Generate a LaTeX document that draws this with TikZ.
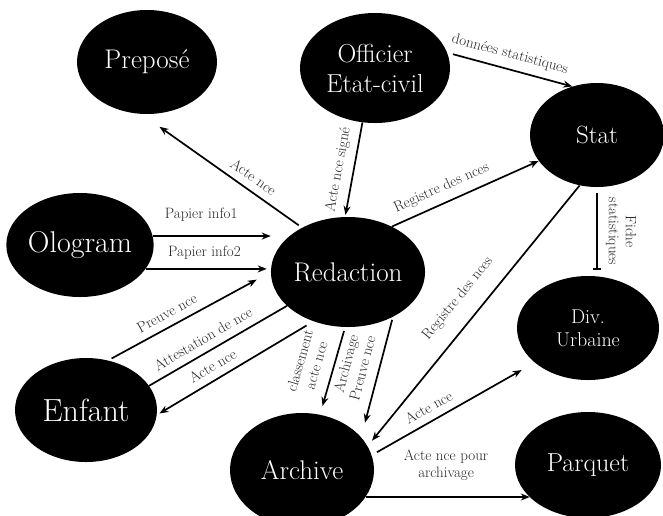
\documentclass[tikz,border=0pt]{standalone}
\usetikzlibrary{shapes.geometric,arrows.meta}

\tikzset{
  bulle/.style={ellipse, fill=black, text=white, inner sep=0pt, align=center},
  lien/.style={line width=1.7pt, -{Stealth[length=9pt,width=7pt]}},
  etiq/.style={text=black!85, font=\fontsize{15}{17}\selectfont, sloped, above=4pt, align=center},
}

\begin{document}
\begin{tikzpicture}[x=1pt,y=-1pt]
        \useasboundingbox (0,0) rectangle (663,515);
        \clip (0,0) rectangle (663,515);
        % les acteurs
        \node[bulle, minimum width=140pt, minimum height=104pt, font=\fontsize{27}{30}\selectfont] (prep) at (147,62) {Preposé};
        \node[bulle, minimum width=150pt, minimum height=110pt, font=\fontsize{26}{30}\selectfont] (offi) at (375,68) {Officier\\Etat-civil};
        \node[bulle, minimum width=134pt, minimum height=104pt, font=\fontsize{25}{30}\selectfont] (stat) at (597,135) {Stat};
        \node[bulle, minimum width=144pt, minimum height=104pt, font=\fontsize{30}{34}\selectfont] (olog) at (80,245) {Ologram};
        \node[bulle, minimum width=146pt, minimum height=110pt, font=\fontsize{27}{30}\selectfont] (redac) at (348,272) {Redaction};
        \node[bulle, minimum width=142pt, minimum height=104pt, font=\fontsize{32}{35}\selectfont] (enf) at (86,410) {Enfant};
        \node[bulle, minimum width=144pt, minimum height=114pt, font=\fontsize{27}{32}\selectfont] (arch) at (302,470) {Archive};
        \node[bulle, minimum width=142pt, minimum height=104pt, font=\fontsize{20}{23}\selectfont] (div) at (588,328) {Div.\\Urbaine};
        \node[bulle, minimum width=146pt, minimum height=106pt, font=\fontsize{26}{30}\selectfont] (parq) at (588,465) {Parquet};

        % les flux
        \draw[lien, shorten <=4pt, shorten >=22pt] (redac.136) -- node[etiq, pos=.35] {Acte nce} (prep.-96);
        \draw[lien, shorten >=2pt] (offi.-103) -- node[etiq, pos=.53] {Acte nce signé} (redac.93);
        \draw[lien, shorten <=6pt] (offi.12) -- node[etiq, pos=.47] {données statistiques} (stat.117);
        \draw[lien] (redac.46) -- node[etiq, pos=.38] {Registre des nces} (stat.-156);
        \draw[lien] (olog.7) -- node[etiq, pos=.41, above=6pt] {Papier info1} (olog.7 -| redac.west);
        \draw[lien, shorten >=4pt] (olog.-20) -- node[etiq, pos=.47, above=1pt] {Papier info2} (olog.-20 -| redac.west);
        \draw[lien, shorten <=4pt, shorten >=16pt] (enf.66) -- node[etiq, pos=.40] {Preuve nce} (redac.180);
        \draw[line width=1.7pt] (enf.21) -- node[etiq, pos=.44] {Attestation de nce} (redac.-151);
        \draw[lien, shorten <=8pt, shorten >=3pt] (redac.-125) -- node[etiq, pos=.6] {Acte nce} (enf.-4);
        \draw[lien, shorten <=4pt, shorten >=9pt] (redac.-93) -- node[etiq, pos=.49, above=4pt] {classement\\acte nce} (arch.72);
        \draw[lien, shorten <=3pt, shorten >=15pt] (redac.-45) -- node[etiq, pos=.46, above=3pt] {Archivage\\Preuve nce} (arch.29);
        \draw[lien, shorten >=7pt] (stat.-109) -- node[etiq, pos=.49, above=8pt] {Registre des nces} (arch.20);
        \draw[lien, shorten <=6pt, shorten >=15pt] (arch.12) -- node[etiq, pos=.39] {Acte nce} (div.-147);
        \draw[line width=1.7pt, -{Bar[width=8pt]}, shorten <=6pt, shorten >=6pt] (stat.south) -- node[midway, rotate=-90, anchor=south, inner sep=8pt, text=black!85, font=\fontsize{15}{17}\selectfont, align=center] {Fiche\\statistiques} (stat.south |- div.north);
        \draw[lien] (arch.-23) -- node[etiq, pos=.49, above=8pt] {Acte nce pour\\archivage} (arch.-23 -| parq.-151);
\end{tikzpicture}
\end{document}
